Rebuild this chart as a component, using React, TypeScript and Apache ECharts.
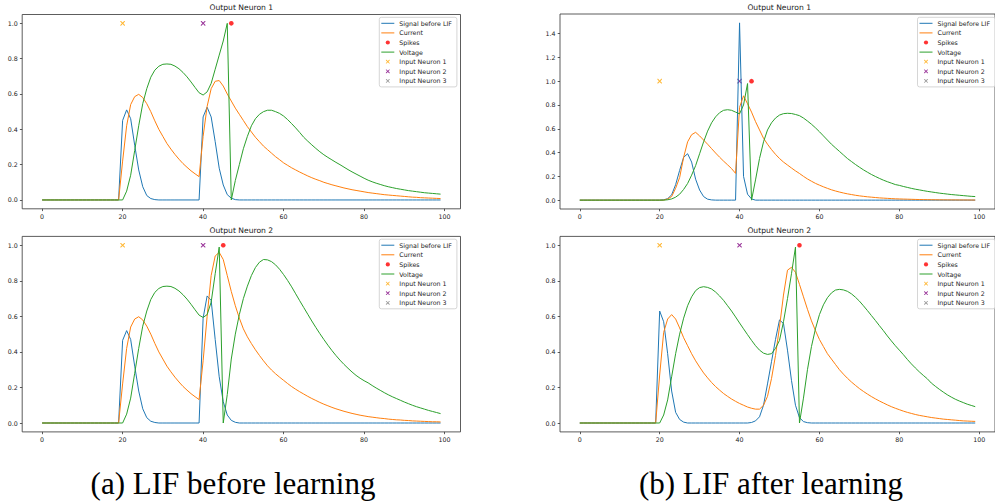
import { useEffect, useRef } from "react";
import * as echarts from "echarts";

// ---------- data ----------
const timeSteps = Array.from({ length: 100 }, (_, i) => i);
const xTickValues = [0, 20, 40, 60, 80, 100];
const yTicksUnit = [0, 0.2, 0.4, 0.6, 0.8, 1.0];
const yTicksWide = [0, 0.2, 0.4, 0.6, 0.8, 1.0, 1.2, 1.4];
const legendNames = ["Signal before LIF", "Current", "Spikes", "Voltage", "Input Neuron 1", "Input Neuron 2", "Input Neuron 3"];
const spikeLevel = 1.0;
const inputNeuron1Spikes = [20];
const inputNeuron2Spikes = [40];
const inputNeuron3Spikes: number[] = [];

// (a) before learning, output neuron 1
const a1Signal = [
  0, 0, 0, 0, 0, 0, 0, 0, 0, 0,
  0, 0, 0, 0, 0, 0, 0, 0, 0, 0,
  0.45, 0.51, 0.46, 0.31, 0.17, 0.075, 0.025, 0.008, 0.002, 0,
  0, 0, 0, 0, 0, 0, 0, 0, 0, 0,
  0.47, 0.525, 0.47, 0.33, 0.18, 0.085, 0.03, 0.01, 0.002, 0,
  0, 0, 0, 0, 0, 0, 0, 0, 0, 0,
  0, 0, 0, 0, 0, 0, 0, 0, 0, 0,
  0, 0, 0, 0, 0, 0, 0, 0, 0, 0,
  0, 0, 0, 0, 0, 0, 0, 0, 0, 0,
  0, 0, 0, 0, 0, 0, 0, 0, 0, 0,
];
const a1Current = [
  0, 0, 0, 0, 0, 0, 0, 0, 0, 0,
  0, 0, 0, 0, 0, 0, 0, 0, 0, 0,
  0.22, 0.42, 0.54, 0.585, 0.598, 0.58, 0.545, 0.5, 0.448, 0.4,
  0.36, 0.32, 0.288, 0.258, 0.231, 0.206, 0.185, 0.165, 0.148, 0.132,
  0.36, 0.53, 0.63, 0.672, 0.676, 0.645, 0.6, 0.56, 0.52, 0.485,
  0.45, 0.415, 0.385, 0.355, 0.33, 0.305, 0.285, 0.265, 0.245, 0.228,
  0.21, 0.196, 0.182, 0.17, 0.158, 0.147, 0.136, 0.126, 0.117, 0.109,
  0.1, 0.093, 0.086, 0.08, 0.074, 0.068, 0.063, 0.058, 0.054, 0.05,
  0.046, 0.042, 0.039, 0.036, 0.033, 0.03, 0.028, 0.026, 0.024, 0.022,
  0.02, 0.018, 0.016, 0.015, 0.013, 0.012, 0.011, 0.01, 0.009, 0.008,
];
const a1Voltage = [
  0, 0, 0, 0, 0, 0, 0, 0, 0, 0,
  0, 0, 0, 0, 0, 0, 0, 0, 0, 0,
  0, 0.05, 0.14, 0.28, 0.42, 0.545, 0.63, 0.695, 0.735, 0.757,
  0.768, 0.77, 0.768, 0.758, 0.743, 0.722, 0.697, 0.668, 0.637, 0.607,
  0.594, 0.612, 0.66, 0.74, 0.82, 0.9, 1.0, 0, 0.11, 0.2,
  0.29, 0.36, 0.42, 0.46, 0.485, 0.5, 0.508, 0.508, 0.5, 0.49,
  0.475, 0.455, 0.432, 0.408, 0.382, 0.355, 0.333, 0.312, 0.292, 0.273,
  0.256, 0.241, 0.227, 0.213, 0.2, 0.186, 0.172, 0.159, 0.147, 0.135,
  0.123, 0.112, 0.103, 0.095, 0.088, 0.081, 0.075, 0.07, 0.065, 0.061,
  0.057, 0.053, 0.05, 0.047, 0.044, 0.041, 0.039, 0.037, 0.035, 0.033,
];
const a1Spikes = [47];

// (a) before learning, output neuron 2
const a2Signal = [
  0, 0, 0, 0, 0, 0, 0, 0, 0, 0,
  0, 0, 0, 0, 0, 0, 0, 0, 0, 0,
  0.465, 0.52, 0.47, 0.32, 0.18, 0.08, 0.03, 0.01, 0.003, 0,
  0, 0, 0, 0, 0, 0, 0, 0, 0, 0,
  0.59, 0.715, 0.69, 0.47, 0.26, 0.12, 0.045, 0.015, 0.004, 0,
  0, 0, 0, 0, 0, 0, 0, 0, 0, 0,
  0, 0, 0, 0, 0, 0, 0, 0, 0, 0,
  0, 0, 0, 0, 0, 0, 0, 0, 0, 0,
  0, 0, 0, 0, 0, 0, 0, 0, 0, 0,
  0, 0, 0, 0, 0, 0, 0, 0, 0, 0,
];
const a2Current = [
  0, 0, 0, 0, 0, 0, 0, 0, 0, 0,
  0, 0, 0, 0, 0, 0, 0, 0, 0, 0,
  0.22, 0.42, 0.54, 0.585, 0.598, 0.58, 0.545, 0.5, 0.448, 0.4,
  0.36, 0.32, 0.288, 0.258, 0.231, 0.206, 0.185, 0.165, 0.148, 0.132,
  0.35, 0.6, 0.83, 0.94, 0.96, 0.92, 0.83, 0.74, 0.66, 0.59,
  0.53, 0.485, 0.447, 0.412, 0.38, 0.35, 0.322, 0.298, 0.277, 0.258,
  0.24, 0.222, 0.205, 0.19, 0.176, 0.163, 0.15, 0.138, 0.127, 0.116,
  0.106, 0.097, 0.088, 0.08, 0.073, 0.066, 0.06, 0.054, 0.049, 0.044,
  0.04, 0.036, 0.033, 0.03, 0.027, 0.025, 0.022, 0.02, 0.018, 0.017,
  0.015, 0.014, 0.012, 0.011, 0.01, 0.009, 0.008, 0.007, 0.007, 0.006,
];
const a2Voltage = [
  0, 0, 0, 0, 0, 0, 0, 0, 0, 0,
  0, 0, 0, 0, 0, 0, 0, 0, 0, 0,
  0, 0.05, 0.14, 0.28, 0.42, 0.545, 0.63, 0.695, 0.735, 0.757,
  0.768, 0.77, 0.768, 0.758, 0.743, 0.722, 0.697, 0.668, 0.637, 0.607,
  0.594, 0.61, 0.68, 0.84, 0.99, 0, 0.16, 0.36, 0.5, 0.61,
  0.7, 0.77, 0.83, 0.875, 0.905, 0.92, 0.918, 0.908, 0.89, 0.865,
  0.835, 0.802, 0.766, 0.727, 0.688, 0.65, 0.612, 0.574, 0.538, 0.503,
  0.47, 0.438, 0.408, 0.38, 0.354, 0.33, 0.308, 0.287, 0.268, 0.252,
  0.238, 0.226, 0.211, 0.197, 0.184, 0.171, 0.159, 0.148, 0.138, 0.128,
  0.118, 0.109, 0.1, 0.092, 0.085, 0.078, 0.071, 0.065, 0.059, 0.053,
];
const a2Spikes = [45];

// (b) after learning, output neuron 1
const b1Signal = [
  0, 0, 0, 0, 0, 0, 0, 0, 0, 0,
  0, 0, 0, 0, 0, 0, 0, 0, 0, 0,
  0, 0.003, 0.012, 0.045, 0.13, 0.25, 0.36, 0.39, 0.32, 0.176,
  0.085, 0.03, 0.008, 0.002, 0, 0, 0, 0, 0, 0,
  1.49, 0.2, 0.05, 0.01, 0, 0, 0, 0, 0, 0,
  0, 0, 0, 0, 0, 0, 0, 0, 0, 0,
  0, 0, 0, 0, 0, 0, 0, 0, 0, 0,
  0, 0, 0, 0, 0, 0, 0, 0, 0, 0,
  0, 0, 0, 0, 0, 0, 0, 0, 0, 0,
  0, 0, 0, 0, 0, 0, 0, 0, 0, 0,
];
const b1Current = [
  0, 0, 0, 0, 0, 0, 0, 0, 0, 0,
  0, 0, 0, 0, 0, 0, 0, 0, 0, 0,
  0, 0, 0.01, 0.03, 0.1, 0.19, 0.36, 0.49, 0.55, 0.57,
  0.54, 0.505, 0.47, 0.433, 0.396, 0.361, 0.328, 0.297, 0.265, 0.225,
  0.78, 0.877, 0.81, 0.74, 0.66, 0.59, 0.52, 0.47, 0.425, 0.385,
  0.35, 0.32, 0.295, 0.27, 0.246, 0.224, 0.2, 0.178, 0.159, 0.141,
  0.126, 0.112, 0.099, 0.087, 0.077, 0.068, 0.06, 0.053, 0.047, 0.041,
  0.036, 0.032, 0.028, 0.025, 0.022, 0.019, 0.017, 0.015, 0.013, 0.011,
  0.01, 0.009, 0.008, 0.007, 0.006, 0.005, 0.0045, 0.004, 0.0035, 0.003,
  0.0027, 0.0024, 0.0021, 0.0019, 0.0017, 0.0015, 0.0013, 0.0012, 0.001, 0.001,
];
const b1Voltage = [
  0, 0, 0, 0, 0, 0, 0, 0, 0, 0,
  0, 0, 0, 0, 0, 0, 0, 0, 0, 0,
  0, 0, 0.003, 0.01, 0.025, 0.05, 0.09, 0.14, 0.21, 0.29,
  0.39, 0.49, 0.58, 0.65, 0.7, 0.735, 0.755, 0.76, 0.755, 0.74,
  0.725, 0.8, 0.98, 0, 0.17, 0.35, 0.49, 0.59, 0.65, 0.69,
  0.715, 0.727, 0.73, 0.728, 0.72, 0.71, 0.69, 0.665, 0.638, 0.608,
  0.575, 0.54, 0.505, 0.47, 0.44, 0.41, 0.38, 0.35, 0.325, 0.3,
  0.277, 0.255, 0.235, 0.216, 0.199, 0.183, 0.168, 0.155, 0.143, 0.131,
  0.124, 0.115, 0.107, 0.099, 0.092, 0.086, 0.08, 0.074, 0.069, 0.064,
  0.059, 0.055, 0.051, 0.047, 0.044, 0.041, 0.038, 0.035, 0.032, 0.03,
];
const b1Spikes = [43];

// (b) after learning, output neuron 2
const b2Signal = [
  0, 0, 0, 0, 0, 0, 0, 0, 0, 0,
  0, 0, 0, 0, 0, 0, 0, 0, 0, 0,
  0.63, 0.57, 0.39, 0.18, 0.06, 0.02, 0.005, 0, 0, 0,
  0, 0, 0, 0, 0, 0, 0, 0, 0, 0,
  0, 0, 0, 0.003, 0.012, 0.035, 0.1, 0.22, 0.345, 0.47,
  0.58, 0.56, 0.41, 0.24, 0.1, 0.03, 0.008, 0.002, 0, 0,
  0, 0, 0, 0, 0, 0, 0, 0, 0, 0,
  0, 0, 0, 0, 0, 0, 0, 0, 0, 0,
  0, 0, 0, 0, 0, 0, 0, 0, 0, 0,
  0, 0, 0, 0, 0, 0, 0, 0, 0, 0,
];
const b2Current = [
  0, 0, 0, 0, 0, 0, 0, 0, 0, 0,
  0, 0, 0, 0, 0, 0, 0, 0, 0, 0,
  0.27, 0.51, 0.585, 0.61, 0.585, 0.535, 0.48, 0.435, 0.39, 0.35,
  0.315, 0.282, 0.254, 0.228, 0.205, 0.185, 0.166, 0.15, 0.135, 0.122,
  0.11, 0.1, 0.09, 0.083, 0.078, 0.078, 0.1, 0.15, 0.25, 0.38,
  0.54, 0.72, 0.86, 0.876, 0.848, 0.78, 0.71, 0.64, 0.575, 0.52,
  0.47, 0.43, 0.39, 0.36, 0.33, 0.3, 0.275, 0.252, 0.231, 0.212,
  0.194, 0.178, 0.163, 0.149, 0.136, 0.124, 0.113, 0.102, 0.092, 0.083,
  0.075, 0.067, 0.06, 0.054, 0.048, 0.043, 0.039, 0.035, 0.031, 0.028,
  0.025, 0.022, 0.02, 0.018, 0.016, 0.014, 0.012, 0.011, 0.01, 0.009,
];
const b2Voltage = [
  0, 0, 0, 0, 0, 0, 0, 0, 0, 0,
  0, 0, 0, 0, 0, 0, 0, 0, 0, 0,
  0, 0.045, 0.13, 0.26, 0.39, 0.5, 0.59, 0.66, 0.71, 0.745,
  0.762, 0.767, 0.763, 0.754, 0.737, 0.715, 0.69, 0.66, 0.63, 0.597,
  0.563, 0.53, 0.497, 0.465, 0.435, 0.41, 0.393, 0.386, 0.39, 0.42,
  0.465, 0.57, 0.7, 0.84, 0.99, 0, 0.14, 0.3, 0.43, 0.53,
  0.61, 0.665, 0.705, 0.732, 0.748, 0.752, 0.749, 0.741, 0.727, 0.708,
  0.686, 0.66, 0.633, 0.605, 0.577, 0.548, 0.52, 0.49, 0.462, 0.435,
  0.41, 0.385, 0.358, 0.333, 0.31, 0.288, 0.268, 0.249, 0.225, 0.207,
  0.19, 0.174, 0.159, 0.146, 0.134, 0.124, 0.115, 0.106, 0.099, 0.092,
];
const b2Spikes = [55];

// ---------- styling / layout ----------
const COLORS = {
  signal: "#1f77b4",
  current: "#ff7f0e",
  voltage: "#2ca02c",
  spike: "#ff0000",
  in1: "#ffa500",
  in2: "#800080",
  in3: "#808080",
};
const SANS = "DejaVu Sans";
const TEXT_COLOR = "#222222";
const X_PATH =
  "path://M0,0 L1.6,0 L5,3.4 L8.4,0 L10,0 L10,1.6 L6.6,5 L10,8.4 L10,10 L8.4,10 L5,6.6 L1.6,10 L0,10 L0,8.4 L3.4,5 L0,1.6 Z";
const X_ICON =
  "path://M0,0 M13,7 M4.6,1.6 L5.2,1.6 L6.5,2.9 L7.8,1.6 L8.4,1.6 L8.4,2.2 L7.1,3.5 L8.4,4.8 L8.4,5.4 L7.8,5.4 L6.5,4.1 L5.2,5.4 L4.6,5.4 L4.6,4.8 L5.9,3.5 L4.6,2.2 Z";
const DOT_ICON = "path://M0,0 M13,7 M4.4,3.5 A2.1,2.1 0 1 1 8.6,3.5 A2.1,2.1 0 1 1 4.4,3.5 Z";
const LINE_ICON = "path://M0,0 M13,7 M0,3 L13,3 L13,4 L0,4 Z";

const panels = [
  {
    title: "Output Neuron 1", signal: a1Signal, current: a1Current, voltage: a1Voltage, spikes: a1Spikes,
    grid: { left: 22.2, top: 14.5, width: 438.3, height: 194.3 }, yMin: -0.05, yMax: 1.05, yTicks: yTicksUnit,
    legend: { left: 379.3, top: 17.3 }, titlePos: { x: 241.3, y: 3.2 },
  },
  {
    title: "Output Neuron 1", signal: b1Signal, current: b1Current, voltage: b1Voltage, spikes: b1Spikes,
    grid: { left: 560, top: 14, width: 438.3, height: 195 }, yMin: -0.0745, yMax: 1.5645, yTicks: yTicksWide,
    legend: { left: 917.5, top: 17.3 }, titlePos: { x: 779.2, y: 3.2 },
  },
  {
    title: "Output Neuron 2", signal: a2Signal, current: a2Current, voltage: a2Voltage, spikes: a2Spikes,
    grid: { left: 22.2, top: 236.4, width: 438.3, height: 195.5 }, yMin: -0.05, yMax: 1.05, yTicks: yTicksUnit,
    legend: { left: 379.3, top: 239.2 }, titlePos: { x: 241.3, y: 226.7 },
  },
  {
    title: "Output Neuron 2", signal: b2Signal, current: b2Current, voltage: b2Voltage, spikes: b2Spikes,
    grid: { left: 560, top: 236.4, width: 438.3, height: 195.5 }, yMin: -0.05, yMax: 1.05, yTicks: yTicksUnit,
    legend: { left: 917.5, top: 239.2 }, titlePos: { x: 779.2, y: 226.7 },
  },
];

function buildOption() {
  const grid: any[] = [];
  const xAxis: any[] = [];
  const yAxis: any[] = [];
  const series: any[] = [];
  const legend: any[] = [];
  const title: any[] = [];
  const tickStyle = { color: "#333", width: 0.8 };
  const labelStyle = { fontFamily: SANS, fontSize: 6.3, color: TEXT_COLOR };
  const legendText = { fontFamily: SANS, fontSize: 6.3, color: TEXT_COLOR };

  panels.forEach((p, i) => {
    grid.push({ ...p.grid, show: true, borderColor: "#333", borderWidth: 0.8, backgroundColor: "transparent", containLabel: false });
    xAxis.push({
      type: "value", gridIndex: i, min: -4.95, max: 103.95,
      axisLine: { show: false, onZero: false },
      splitLine: { show: false },
      axisTick: { show: true, length: 2.3, lineStyle: tickStyle, customValues: xTickValues },
      axisLabel: { ...labelStyle, margin: 4.5, customValues: xTickValues, formatter: (v: number) => String(Math.round(v)) },
    });
    yAxis.push({
      type: "value", gridIndex: i, min: p.yMin, max: p.yMax,
      axisLine: { show: false, onZero: false },
      splitLine: { show: false },
      axisTick: { show: true, length: 2.3, lineStyle: tickStyle, customValues: p.yTicks },
      axisLabel: { ...labelStyle, margin: 4.5, customValues: p.yTicks, formatter: (v: number) => v.toFixed(1) },
    });
    const common = { xAxisIndex: i, yAxisIndex: i, silent: true };
    series.push({
      ...common, type: "line", name: "Signal before LIF", symbol: "none",
      data: p.signal.map((v, k) => [timeSteps[k], v]),
      lineStyle: { color: COLORS.signal, width: 1 }, itemStyle: { color: COLORS.signal },
    });
    series.push({
      ...common, type: "line", name: "Current", symbol: "none",
      data: p.current.map((v, k) => [timeSteps[k], v]),
      lineStyle: { color: COLORS.current, width: 1 }, itemStyle: { color: COLORS.current },
    });
    series.push({
      ...common, type: "scatter", name: "Spikes", symbol: "circle", symbolSize: 4.6,
      data: p.spikes.map((s) => [s, spikeLevel]), itemStyle: { color: COLORS.spike },
    });
    series.push({
      ...common, type: "line", name: "Voltage", symbol: "none",
      data: p.voltage.map((v, k) => [timeSteps[k], v]),
      lineStyle: { color: COLORS.voltage, width: 1 }, itemStyle: { color: COLORS.voltage },
    });
    series.push({
      ...common, type: "scatter", name: "Input Neuron 1", symbol: X_PATH, symbolSize: 4.6,
      data: inputNeuron1Spikes.map((s) => [s, spikeLevel]), itemStyle: { color: COLORS.in1 },
    });
    series.push({
      ...common, type: "scatter", name: "Input Neuron 2", symbol: X_PATH, symbolSize: 4.6,
      data: inputNeuron2Spikes.map((s) => [s, spikeLevel]), itemStyle: { color: COLORS.in2 },
    });
    series.push({
      ...common, type: "scatter", name: "Input Neuron 3", symbol: X_PATH, symbolSize: 4.6,
      data: inputNeuron3Spikes.map((s) => [s, spikeLevel]), itemStyle: { color: COLORS.in3 },
    });
    legend.push({
      left: p.legend.left, top: p.legend.top, orient: "vertical",
      itemWidth: 13, itemHeight: 7, itemGap: 2.6, padding: [2.5, 5, 2.5, 2],
      backgroundColor: "rgba(255,255,255,0.8)", borderColor: "#cccccc", borderWidth: 0.8, borderRadius: 2,
      selectedMode: false,
      lineStyle: { width: 1 },
      textStyle: legendText,
      data: legendNames.map((n) => {
        if (n === "Spikes") return { name: n, icon: DOT_ICON, textStyle: legendText };
        if (n.startsWith("Input")) return { name: n, icon: X_ICON, textStyle: legendText };
        return { name: n, icon: LINE_ICON, lineStyle: { width: 1 }, textStyle: legendText };
      }),
    });
    title.push({
      text: p.title, left: p.titlePos.x, top: p.titlePos.y, textAlign: "center", padding: 0,
      textStyle: { fontFamily: SANS, fontSize: 7.6, fontWeight: "normal", color: TEXT_COLOR },
    });
  });

  return {
    animation: false,
    backgroundColor: "#ffffff",
    title, grid, xAxis, yAxis, series, legend,
    graphic: [
      {
        type: "text", x: 233, y: 483,
        style: { text: "(a) LIF before learning", fontFamily: "Liberation Serif", fontSize: 31, fill: "#000", align: "center", verticalAlign: "middle" },
      },
      {
        type: "text", x: 771, y: 483,
        style: { text: "(b) LIF after learning", fontFamily: "Liberation Serif", fontSize: 31, fill: "#000", align: "center", verticalAlign: "middle" },
      },
    ],
  };
}

export default function App() {
  const ref = useRef<HTMLDivElement>(null);
  useEffect(() => {
    if (!ref.current) return;
    const chart = echarts.init(ref.current, undefined, { renderer: "svg" });
    chart.setOption(buildOption() as any);
    return () => chart.dispose();
  }, []);
  return <div ref={ref} style={{ position: "fixed", left: 0, top: 0, width: 995, height: 501 }} />;
}
